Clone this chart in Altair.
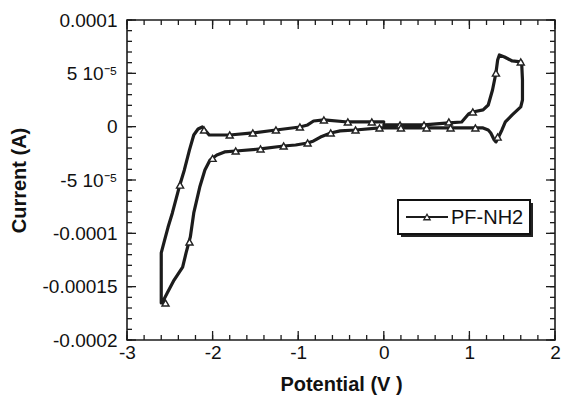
import altair as alt
import pandas as pd

# ---- data (potential in V, current in microamps) ----
potential = [
    0.00, 0.19, 0.47, 0.76, 0.91, 0.99, 1.04, 1.16, 1.22, 1.27, 1.31, 1.33, 1.35, 1.41, 1.50, 1.60,
    1.61, 1.62, 1.62, 1.60, 1.50, 1.42, 1.38, 1.34, 1.31, 1.29, 1.25, 1.22, 1.16, 1.07, 0.78, 0.50,
    0.20, -0.05, -0.33, -0.51, -0.62, -0.74, -0.82, -0.89, -1.03, -1.17, -1.44, -1.73, -1.86, -1.95,
    -2.03, -2.09, -2.15, -2.22, -2.26, -2.31, -2.35, -2.45, -2.53, -2.59,
    -2.60, -2.60, -2.60, -2.56, -2.52, -2.47, -2.39, -2.33, -2.27, -2.22, -2.17, -2.12, -2.09, -2.04,
    -1.80, -1.53, -1.26, -0.98, -0.89, -0.82, -0.70, -0.42, -0.14, 0.00,
]
current_uA = [
    1.6, 1.6, 1.6, 3.5, 4.4, 11.9, 13.8, 15.7, 20.3, 34.4, 50.3, 62.5, 67.2, 65.3, 61.6, 60.7,
    60.7, 43.8, 25.0, 18.5, 11.0, 4.4, -3.1, -9.7, -14.3, -12.5, -5.9, -3.1, -1.2, -1.2, -1.2, -1.2,
    -1.2, -1.2, -3.1, -4.0, -5.9, -9.7, -13.4, -15.3, -17.2, -18.1, -20.9, -22.8, -23.7, -26.6,
    -31.2, -40.6, -56.6, -80.9, -103.4, -118.4, -131.6, -143.8, -156.0, -165.3,
    -165.3, -143.8, -118.4, -106.2, -94.1, -80.9, -56.6, -40.6, -21.8, -7.8, -2.2, -0.3, -3.1, -7.8,
    -7.8, -5.9, -3.1, -0.3, 1.6, 5.3, 6.3, 4.4, 4.4, 4.4,
]

marker_potential = [
    -2.38, -2.10, -1.80, -1.53, -1.26, -0.98, -0.70, -0.42, -0.14,
    0.19, 0.47, 0.76, 1.04, 1.31, 1.60,
    1.33, 1.07, 0.78, 0.50, 0.20, -0.05, -0.33, -0.62, -0.89, -1.17, -1.44, -1.73, -2.00, -2.27, -2.55,
]
marker_current_uA = [
    -54.7, -3.1, -7.8, -5.9, -3.1, -0.3, 6.3, 4.4, 4.4,
    1.6, 1.6, 4.4, 13.8, 50.3, 60.7,
    -9.7, -1.2, -1.2, -1.2, -1.2, -1.2, -3.1, -5.9, -15.3, -18.1, -20.9, -22.8, -29.7, -108.1, -165.3,
]

x_ticks = [-3, -2, -1, 0, 1, 2]
y_ticks = [-0.0002, -0.00015, -0.0001, -0.00005, 0, 0.00005, 0.0001]
y_tick_labels = ["-0.0002", "-0.00015", "-0.0001", "-5 10\u207b\u2075", "0", "5 10\u207b\u2075", "0.0001"]
x_minor = [round(-3 + 0.2 * i, 2) for i in range(26)]
y_minor = [round(-0.0002 + 0.00001 * i, 7) for i in range(31)]
series_name = "PF-NH2"
x_title = "Potential (V )"
y_title = "Current (A)"

# ---- layout ----
W, H = 428, 320
FONT = "Liberation Sans"
INK = "#1c1c1c"
MAJ, MIN = 9, 5

path = pd.DataFrame({"E": potential, "I": [v * 1e-6 for v in current_uA],
                     "o": list(range(len(potential)))})
marks = pd.DataFrame({"E": marker_potential, "I": [v * 1e-6 for v in marker_current_uA]})
xmaj = pd.DataFrame({"E": x_ticks})
xmin = pd.DataFrame({"E": x_minor})
ymaj = pd.DataFrame({"I": y_ticks})
ymin = pd.DataFrame({"I": y_minor})
one = pd.DataFrame({"k": [0]})

label_expr = ""
for v, t in zip(y_ticks, y_tick_labels):
    label_expr += f"abs(datum.value - ({v})) < 1e-9 ? '{t}' : "
label_expr += "''"

xs = alt.Scale(domain=[-3, 2], nice=False, zero=False)
ys = alt.Scale(domain=[-0.0002, 0.0001], nice=False, zero=False)

x_axis = alt.Axis(values=x_ticks, labelExpr="'' + round(datum.value)", ticks=False, domain=False,
                  grid=False, labelFlush=False, labelFontSize=19, labelPadding=3,
                  labelColor="#111", labelFont=FONT, title=x_title, titleFont=FONT,
                  titleFontSize=20, titleFontWeight="bold", titlePadding=12, titleColor="#111")
y_axis = alt.Axis(values=y_ticks, labelExpr=label_expr, ticks=False, domain=False, grid=False,
                  labelFontSize=19, labelPadding=10, labelColor="#111", labelFont=FONT,
                  title=y_title, titleFont=FONT, titleFontSize=20, titleFontWeight="bold",
                  titlePadding=12, titleColor="#111")

X = alt.X("E:Q", scale=xs, axis=x_axis)
Y = alt.Y("I:Q", scale=ys, axis=y_axis)

line = alt.Chart(path).mark_line(color=INK, strokeWidth=3.2, strokeJoin="round",
                                 strokeCap="round").encode(x=X, y=Y, order="o:Q")
pts = alt.Chart(marks).mark_point(shape="triangle-up", size=50, filled=True, fill="white",
                                  stroke="#222", strokeWidth=1.4, opacity=1).encode(x=X, y=Y)

tick_style = dict(color=INK, strokeWidth=1.3)
t1 = alt.Chart(xmaj).mark_rule(**tick_style).encode(x=X, y=alt.value(H), y2=alt.value(H - MAJ))
t2 = alt.Chart(xmin).mark_rule(**tick_style).encode(x=X, y=alt.value(H), y2=alt.value(H - MIN))
t3 = alt.Chart(xmaj).mark_rule(**tick_style).encode(x=X, y=alt.value(0), y2=alt.value(MAJ))
t4 = alt.Chart(xmin).mark_rule(**tick_style).encode(x=X, y=alt.value(0), y2=alt.value(MIN))
t5 = alt.Chart(ymaj).mark_rule(**tick_style).encode(y=Y, x=alt.value(0), x2=alt.value(MAJ))
t6 = alt.Chart(ymin).mark_rule(**tick_style).encode(y=Y, x=alt.value(0), x2=alt.value(MIN))
t7 = alt.Chart(ymaj).mark_rule(**tick_style).encode(y=Y, x=alt.value(W), x2=alt.value(W - MAJ))
t8 = alt.Chart(ymin).mark_rule(**tick_style).encode(y=Y, x=alt.value(W), x2=alt.value(W - MIN))

# ---- legend box with drop shadow ----
LX0, LX1, LY0, LY1 = 271, 403, 180, 214
shadow = alt.Chart(one).mark_rect(color="#222").encode(
    x=alt.value(LX0 + 3), x2=alt.value(LX1 + 3), y=alt.value(LY0 + 3), y2=alt.value(LY1 + 3))
box = alt.Chart(one).mark_rect(fill="white", stroke="#111", strokeWidth=2).encode(
    x=alt.value(LX0), x2=alt.value(LX1), y=alt.value(LY0), y2=alt.value(LY1))
leg_line = alt.Chart(one).mark_rule(color=INK, strokeWidth=2).encode(
    x=alt.value(LX0 + 8), x2=alt.value(LX0 + 50), y=alt.value((LY0 + LY1) / 2))
leg_pt = alt.Chart(one).mark_point(shape="triangle-up", size=40, filled=True, fill="white",
                                   stroke="#222", strokeWidth=1.3, opacity=1).encode(
    x=alt.value(LX0 + 29), y=alt.value((LY0 + LY1) / 2))
leg_txt = alt.Chart(one).mark_text(align="left", baseline="middle", font=FONT, fontSize=20,
                                   color="#111").encode(
    x=alt.value(LX0 + 53), y=alt.value((LY0 + LY1) / 2 + 1), text=alt.value(series_name))

chart = alt.layer(line, pts, t1, t2, t3, t4, t5, t6, t7, t8,
                  shadow, box, leg_line, leg_pt, leg_txt).properties(
    width=W, height=H,
    autosize=alt.AutoSizeParams(type="none"),
    padding={"left": 119, "top": 12, "right": 6, "bottom": 55},
    background="white",
).configure_view(stroke=INK, strokeWidth=1.6)

chart.save("out.html", embed_options={"renderer": "svg", "actions": False})
